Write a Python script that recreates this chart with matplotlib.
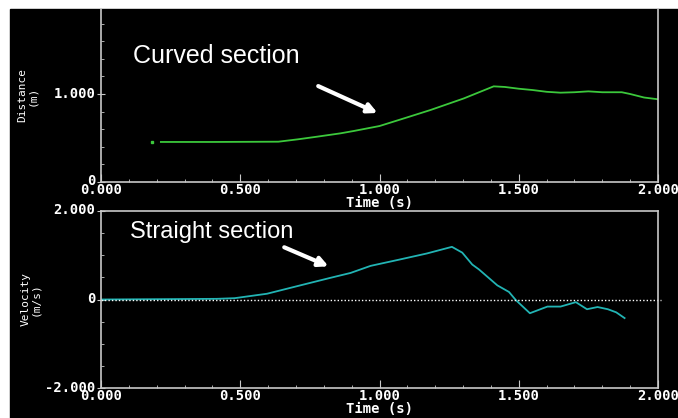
import matplotlib
matplotlib.use("Agg")
import matplotlib.pyplot as plt
import numpy as np
from matplotlib.patches import Rectangle
from matplotlib.ticker import MultipleLocator, FuncFormatter
from matplotlib.transforms import ScaledTranslation

# distance (top plot)
dot_t = [0.183]
dot_d = [0.455]
dist_t = [0.215, 0.40, 0.637, 0.707, 0.776, 0.86, 0.908, 1.0, 1.1, 1.183, 1.303,
          1.41, 1.45, 1.50, 1.55, 1.60, 1.65, 1.70, 1.75, 1.80, 1.87, 1.90, 1.95, 2.0]
dist_d = [0.455, 0.455, 0.458, 0.485, 0.515, 0.553, 0.58, 0.636, 0.735, 0.818, 0.95,
          1.087, 1.08, 1.06, 1.045, 1.025, 1.015, 1.02, 1.03, 1.02, 1.02, 1.0, 0.96, 0.94]

# velocity (bottom plot)
vel_t = [0, 0.416, 0.48, 0.596, 0.716, 0.824, 0.896, 0.968, 1.07, 1.17, 1.26, 1.297,
         1.333, 1.357, 1.423, 1.465, 1.489, 1.54, 1.603, 1.65, 1.705, 1.745, 1.783,
         1.82, 1.85, 1.88]
vel_v = [0, 0.015, 0.03, 0.13, 0.32, 0.49, 0.6, 0.76, 0.9, 1.04, 1.19, 1.06,
         0.79, 0.68, 0.32, 0.17, -0.01, -0.31, -0.16, -0.16, -0.06, -0.22, -0.17,
         -0.22, -0.29, -0.42]

W, H = 678, 418
fig = plt.figure(figsize=(W / 100, H / 100), dpi=100)
fig.patch.set_facecolor("white")
fig.patches.append(Rectangle((10 / W, 0), 1 - 10 / W, 1 - 9 / H,
                             transform=fig.transFigure, color="black", zorder=-10))

mono = "DejaVu Sans Mono"
spine_c = "#c8c8c8"
green = "#3cc83c"
cyan = "#22b4b4"


def fmt(v, pos):
    if abs(v) < 1e-9:
        return "0"
    return "%.3f" % v


def style(ax, ymajor, yminor):
    ax.set_facecolor("none")
    ax.set_xlim(0, 2)
    ax.xaxis.set_major_locator(MultipleLocator(0.5))
    ax.xaxis.set_minor_locator(MultipleLocator(0.1))
    ax.yaxis.set_major_locator(MultipleLocator(ymajor))
    ax.yaxis.set_minor_locator(MultipleLocator(yminor))
    ax.xaxis.set_major_formatter(FuncFormatter(lambda v, p: "%.3f" % v))
    ax.yaxis.set_major_formatter(FuncFormatter(fmt))
    for s in ax.spines.values():
        s.set_color(spine_c)
        s.set_linewidth(1.2)
    ax.tick_params(which="major", direction="in", length=6, color=spine_c,
                   labelcolor="white", labelsize=10, pad=1)
    ax.tick_params(which="minor", direction="in", length=2.3, color=spine_c)
    ax.tick_params(axis="y", which="major", direction="inout", length=6)
    nudge = ScaledTranslation(0, 2 / 100, fig.dpi_scale_trans)
    for lab in ax.get_xticklabels() + ax.get_yticklabels():
        lab.set_family(mono)
        lab.set_fontweight("bold")
    for lab in ax.get_yticklabels():
        lab.set_transform(lab.get_transform() + nudge)
    ax.set_xlabel("Time (s)", color="white", fontsize=10, family=mono,
                  fontweight="bold", labelpad=-1)


ax1 = fig.add_axes([101 / W, 1 - 182 / H, 557 / W, 173 / H])
ax1.set_ylim(0, 173 / 88)
ax1.spines["top"].set_visible(False)
style(ax1, 1.0, 0.2)
ax1.plot(dist_t, dist_d, color=green, lw=1.3)
ax1.plot(dot_t, dot_d, "s", color=green, ms=1.5)
ax1.set_ylabel("Distance\n(m)", color="white", fontsize=8, family=mono,
               linespacing=0.9, labelpad=12)
ax1.text(0.115, 1.35, "Curved section", color="white", fontsize=18,
         family="Liberation Sans")
ax1.annotate("", xy=(0.993, 0.784), xytext=(0.78, 1.09),
             arrowprops=dict(arrowstyle="-|>", color="white", lw=3,
                             mutation_scale=14, shrinkA=0, shrinkB=0))

ax2 = fig.add_axes([101 / W, 1 - 388 / H, 557 / W, 177 / H])
ax2.set_ylim(-2, 2)
style(ax2, 2.0, 0.5)
ax2.plot(vel_t, vel_v, color=cyan, lw=1.3)
ax2.axhline(0, xmin=0, xmax=1.005, color="white", lw=1, ls=(0, (1, 1.5)),
            clip_on=False)
ax2.set_ylabel("Velocity\n(m/s)", color="white", fontsize=8, family=mono,
               linespacing=0.9, labelpad=4)
ax2.text(0.104, 1.39, "Straight section", color="white", fontsize=17,
         family="Liberation Sans")
ax2.annotate("", xy=(0.817, 0.75), xytext=(0.658, 1.18),
             arrowprops=dict(arrowstyle="-|>", color="white", lw=3,
                             mutation_scale=14, shrinkA=0, shrinkB=0))

fig.savefig("out.png", dpi=100, facecolor="white")
